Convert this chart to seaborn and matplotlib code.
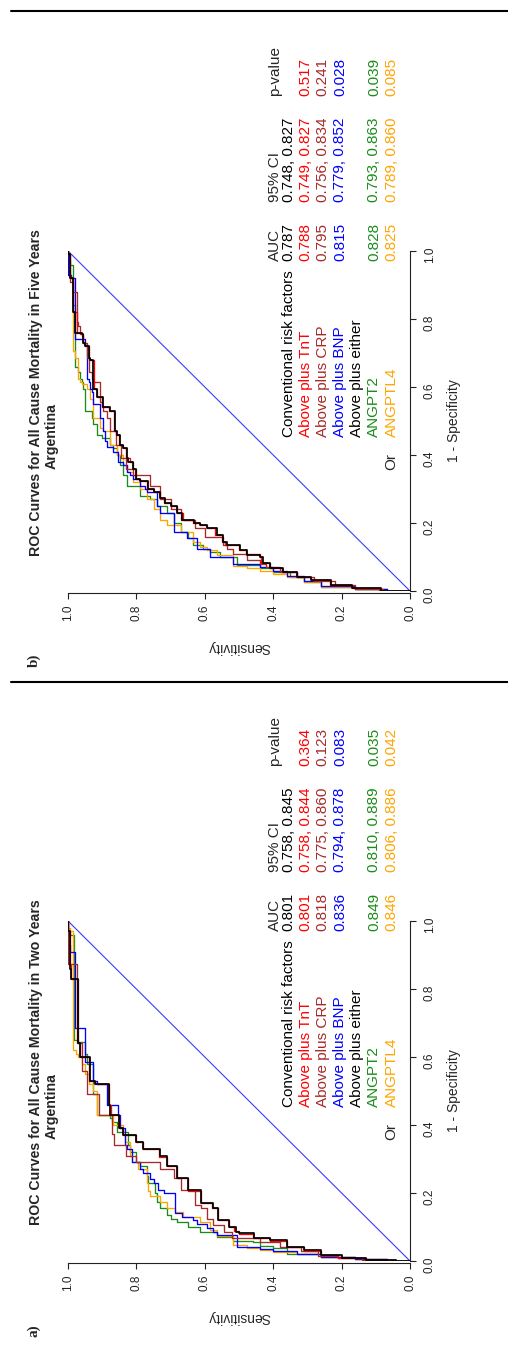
import numpy as np
import pandas as pd
import matplotlib
matplotlib.use("Agg")
import matplotlib.pyplot as plt
import seaborn as sns
from matplotlib.lines import Line2D

# ---------------- data ----------------
MODELS = ["Conventional risk factors", "Above plus TnT", "Above plus CRP",
          "Above plus BNP", "Above plus either", "ANGPT2", "ANGPTL4"]
ROW_COLORS = ["#000000", "#ff0000", "#a52a2a", "#0000ff", "#000000", "#1a8c1a", "#ffa500"]
CURVE_MODELS = ["ANGPT2", "ANGPTL4", "Above plus BNP", "Above plus CRP",
                "Above plus TnT", "Conventional risk factors"]
TICKS = [0.0, 0.2, 0.4, 0.6, 0.8, 1.0]
DIAG = [0.0, 1.0]

# panel a (two years)
A_TITLE = "ROC Curves for All Cause Mortality in Two Years"
A_AUC = ["0.801", "0.801", "0.818", "0.836", "", "0.849", "0.846"]
A_CI = ["0.758, 0.845", "0.758, 0.844", "0.775, 0.860", "0.794, 0.878", "", "0.810, 0.889", "0.806, 0.886"]
A_P = ["", "0.364", "0.123", "0.083", "", "0.035", "0.042"]

A_CONV_FPR = [0, 0.003, 0.008, 0.018, 0.032, 0.042, 0.062, 0.067, 0.081, 0.086, 0.10, 0.12, 0.155, 0.17, 0.21, 0.245, 0.28, 0.31, 0.33, 0.35, 0.37, 0.39, 0.43, 0.46, 0.52, 0.53, 0.60, 0.64, 0.83, 0.86, 0.97, 1.0]
A_CONV_SENS = [0, 0.04, 0.13, 0.20, 0.26, 0.31, 0.36, 0.41, 0.456, 0.50, 0.51, 0.53, 0.56, 0.575, 0.61, 0.65, 0.68, 0.71, 0.73, 0.78, 0.80, 0.84, 0.85, 0.877, 0.88, 0.92, 0.935, 0.965, 0.97, 0.99, 0.995, 1.0]
A_TNT_FPR = [0, 0.003, 0.009, 0.018, 0.030, 0.042, 0.060, 0.067, 0.080, 0.088, 0.10, 0.12, 0.155, 0.17, 0.205, 0.245, 0.28, 0.305, 0.33, 0.35, 0.37, 0.39, 0.43, 0.46, 0.52, 0.53, 0.60, 0.64, 0.83, 0.87, 0.97, 1.0]
A_TNT_SENS = [0, 0.04, 0.13, 0.21, 0.26, 0.31, 0.36, 0.41, 0.46, 0.50, 0.515, 0.53, 0.56, 0.58, 0.61, 0.65, 0.68, 0.71, 0.735, 0.78, 0.80, 0.84, 0.85, 0.875, 0.88, 0.92, 0.94, 0.965, 0.975, 0.99, 0.995, 1.0]
A_CRP_FPR = [0, 0.003, 0.008, 0.015, 0.028, 0.040, 0.055, 0.067, 0.086, 0.105, 0.125, 0.155, 0.165, 0.21, 0.245, 0.27, 0.29, 0.31, 0.34, 0.375, 0.43, 0.49, 0.56, 0.64, 0.83, 0.875, 0.89, 1.0]
A_CRP_SENS = [0, 0.05, 0.14, 0.21, 0.27, 0.32, 0.38, 0.44, 0.52, 0.545, 0.575, 0.595, 0.61, 0.63, 0.67, 0.69, 0.73, 0.80, 0.83, 0.865, 0.87, 0.91, 0.945, 0.96, 0.97, 0.975, 1.0, 1.0]
A_BNP_FPR = [0, 0.005, 0.013, 0.022, 0.03, 0.035, 0.04, 0.076, 0.086, 0.096, 0.11, 0.12, 0.13, 0.14, 0.2, 0.21, 0.23, 0.24, 0.26, 0.27, 0.29, 0.33, 0.34, 0.39, 0.43, 0.46, 0.52, 0.53, 0.586, 0.625, 0.685, 0.91, 0.93, 1.0]
A_BNP_SENS = [0, 0.066, 0.16, 0.26, 0.33, 0.40, 0.44, 0.507, 0.565, 0.575, 0.595, 0.624, 0.634, 0.668, 0.687, 0.72, 0.736, 0.75, 0.76, 0.78, 0.79, 0.814, 0.828, 0.833, 0.848, 0.853, 0.887, 0.916, 0.926, 0.95, 0.95, 0.98, 0.995, 1.0]
A_ANG2_FPR = [0, 0.005, 0.013, 0.022, 0.037, 0.045, 0.055, 0.06, 0.07, 0.086, 0.10, 0.115, 0.125, 0.135, 0.155, 0.175, 0.2, 0.23, 0.25, 0.28, 0.29, 0.32, 0.34, 0.38, 0.41, 0.42, 0.43, 0.49, 0.58, 0.61, 0.645, 0.65, 0.96, 0.97, 1.0]
A_ANG2_SENS = [0, 0.066, 0.16, 0.26, 0.36, 0.40, 0.44, 0.458, 0.517, 0.565, 0.614, 0.65, 0.68, 0.70, 0.71, 0.73, 0.74, 0.746, 0.765, 0.77, 0.79, 0.80, 0.82, 0.824, 0.858, 0.87, 0.877, 0.916, 0.926, 0.945, 0.95, 0.972, 0.982, 0.995, 1.0]
A_ANGL4_FPR = [0, 0.005, 0.012, 0.02, 0.027, 0.033, 0.037, 0.047, 0.075, 0.09, 0.115, 0.13, 0.145, 0.155, 0.175, 0.19, 0.205, 0.23, 0.27, 0.29, 0.31, 0.35, 0.37, 0.40, 0.43, 0.50, 0.52, 0.55, 0.58, 0.6, 0.61, 0.62, 0.97, 0.98, 1.0]
A_ANGL4_SENS = [0, 0.066, 0.16, 0.26, 0.33, 0.40, 0.44, 0.478, 0.517, 0.565, 0.585, 0.614, 0.663, 0.687, 0.711, 0.73, 0.76, 0.765, 0.77, 0.794, 0.814, 0.819, 0.833, 0.838, 0.867, 0.916, 0.926, 0.94, 0.95, 0.96, 0.97, 0.977, 0.984, 0.995, 1.0]

# panel b (five years)
B_TITLE = "ROC Curves for All Cause Mortality in Five Years"
B_AUC = ["0.787", "0.788", "0.795", "0.815", "", "0.828", "0.825"]
B_CI = ["0.748, 0.827", "0.749, 0.827", "0.756, 0.834", "0.779, 0.852", "", "0.793, 0.863", "0.789, 0.860"]
B_P = ["", "0.517", "0.241", "0.028", "", "0.039", "0.085"]

B_CONV_FPR = [0, 0.008, 0.018, 0.032, 0.042, 0.057, 0.067, 0.081, 0.10, 0.106, 0.12, 0.135, 0.145, 0.165, 0.185, 0.195, 0.2, 0.21, 0.23, 0.25, 0.26, 0.275, 0.29, 0.30, 0.325, 0.33, 0.36, 0.38, 0.39, 0.42, 0.43, 0.46, 0.47, 0.53, 0.54, 0.57, 0.595, 0.68, 0.685, 0.72, 0.73, 0.755, 0.76, 0.82, 0.92, 0.99, 1.0]
B_CONV_SENS = [0, 0.086, 0.17, 0.23, 0.29, 0.33, 0.37, 0.41, 0.43, 0.44, 0.478, 0.497, 0.536, 0.546, 0.565, 0.595, 0.614, 0.633, 0.667, 0.68, 0.70, 0.716, 0.73, 0.75, 0.765, 0.79, 0.80, 0.809, 0.824, 0.828, 0.838, 0.848, 0.858, 0.863, 0.877, 0.897, 0.916, 0.926, 0.935, 0.94, 0.95, 0.955, 0.96, 0.98, 0.985, 0.995, 1.0]
B_TNT_FPR = [0, 0.008, 0.017, 0.032, 0.042, 0.055, 0.067, 0.081, 0.10, 0.108, 0.12, 0.135, 0.145, 0.165, 0.185, 0.195, 0.2, 0.21, 0.23, 0.25, 0.26, 0.275, 0.29, 0.30, 0.325, 0.33, 0.36, 0.38, 0.39, 0.42, 0.43, 0.46, 0.47, 0.53, 0.54, 0.57, 0.595, 0.68, 0.685, 0.72, 0.73, 0.755, 0.76, 0.82, 0.92, 0.99, 1.0]
B_TNT_SENS = [0, 0.09, 0.17, 0.235, 0.29, 0.33, 0.375, 0.41, 0.435, 0.44, 0.48, 0.50, 0.54, 0.55, 0.57, 0.595, 0.615, 0.635, 0.665, 0.68, 0.70, 0.72, 0.73, 0.75, 0.77, 0.79, 0.80, 0.81, 0.82, 0.83, 0.84, 0.85, 0.86, 0.865, 0.88, 0.90, 0.915, 0.925, 0.935, 0.94, 0.95, 0.955, 0.965, 0.975, 0.985, 0.995, 1.0]
B_CRP_FPR = [0, 0.007, 0.017, 0.03, 0.04, 0.055, 0.07, 0.08, 0.09, 0.11, 0.125, 0.135, 0.16, 0.185, 0.21, 0.24, 0.27, 0.31, 0.34, 0.36, 0.39, 0.43, 0.47, 0.51, 0.53, 0.545, 0.555, 0.615, 0.625, 0.645, 0.685, 0.73, 0.75, 0.76, 0.78, 0.79, 0.88, 0.91, 0.99, 1.0]
B_CRP_SENS = [0, 0.08, 0.16, 0.22, 0.28, 0.33, 0.38, 0.42, 0.44, 0.478, 0.517, 0.536, 0.546, 0.60, 0.63, 0.67, 0.70, 0.73, 0.76, 0.81, 0.83, 0.845, 0.86, 0.877, 0.887, 0.897, 0.90, 0.906, 0.926, 0.93, 0.94, 0.945, 0.955, 0.96, 0.965, 0.97, 0.975, 0.985, 0.995, 1.0]
B_BNP_FPR = [0, 0.005, 0.015, 0.03, 0.045, 0.06, 0.07, 0.08, 0.1, 0.125, 0.155, 0.175, 0.2, 0.23, 0.25, 0.29, 0.30, 0.31, 0.33, 0.34, 0.35, 0.37, 0.38, 0.41, 0.425, 0.44, 0.47, 0.51, 0.55, 0.585, 0.595, 0.615, 0.625, 0.725, 0.74, 0.92, 0.93, 1.0]
B_BNP_SENS = [0, 0.066, 0.16, 0.26, 0.31, 0.36, 0.40, 0.44, 0.517, 0.585, 0.624, 0.653, 0.69, 0.69, 0.73, 0.74, 0.77, 0.775, 0.79, 0.809, 0.819, 0.828, 0.838, 0.853, 0.867, 0.887, 0.892, 0.897, 0.906, 0.926, 0.93, 0.935, 0.94, 0.945, 0.95, 0.98, 0.99, 1.0]
B_ANG2_FPR = [0, 0.005, 0.013, 0.027, 0.042, 0.055, 0.067, 0.076, 0.1, 0.115, 0.125, 0.135, 0.155, 0.175, 0.2, 0.23, 0.25, 0.27, 0.28, 0.31, 0.34, 0.37, 0.40, 0.42, 0.43, 0.45, 0.46, 0.49, 0.51, 0.53, 0.595, 0.615, 0.625, 0.645, 0.66, 0.665, 0.84, 0.85, 0.96, 0.97, 1.0]
B_ANG2_SENS = [0, 0.066, 0.16, 0.26, 0.31, 0.35, 0.40, 0.44, 0.507, 0.556, 0.585, 0.604, 0.634, 0.65, 0.67, 0.69, 0.71, 0.74, 0.76, 0.79, 0.828, 0.838, 0.848, 0.858, 0.867, 0.877, 0.90, 0.916, 0.926, 0.93, 0.95, 0.955, 0.96, 0.965, 0.97, 0.98, 0.98, 0.985, 0.985, 0.995, 1.0]
B_ANGL4_FPR = [0, 0.005, 0.013, 0.027, 0.04, 0.05, 0.06, 0.067, 0.075, 0.105, 0.12, 0.13, 0.145, 0.175, 0.195, 0.21, 0.24, 0.27, 0.30, 0.32, 0.35, 0.37, 0.40, 0.43, 0.47, 0.48, 0.51, 0.565, 0.595, 0.61, 0.615, 0.625, 0.685, 0.705, 0.92, 0.94, 1.0]
B_ANGL4_SENS = [0, 0.066, 0.16, 0.26, 0.31, 0.36, 0.40, 0.44, 0.478, 0.517, 0.565, 0.595, 0.614, 0.634, 0.67, 0.71, 0.73, 0.75, 0.77, 0.79, 0.809, 0.828, 0.838, 0.858, 0.877, 0.897, 0.906, 0.926, 0.935, 0.945, 0.96, 0.965, 0.97, 0.98, 0.985, 0.995, 1.0]

A_CURVES = {
    "Conventional risk factors": (A_CONV_FPR, A_CONV_SENS),
    "Above plus TnT": (A_TNT_FPR, A_TNT_SENS),
    "Above plus CRP": (A_CRP_FPR, A_CRP_SENS),
    "Above plus BNP": (A_BNP_FPR, A_BNP_SENS),
    "ANGPT2": (A_ANG2_FPR, A_ANG2_SENS),
    "ANGPTL4": (A_ANGL4_FPR, A_ANGL4_SENS),
}
B_CURVES = {
    "Conventional risk factors": (B_CONV_FPR, B_CONV_SENS),
    "Above plus TnT": (B_TNT_FPR, B_TNT_SENS),
    "Above plus CRP": (B_CRP_FPR, B_CRP_SENS),
    "Above plus BNP": (B_BNP_FPR, B_BNP_SENS),
    "ANGPT2": (B_ANG2_FPR, B_ANG2_SENS),
    "ANGPTL4": (B_ANGL4_FPR, B_ANGL4_SENS),
}

# ---------------- style ----------------
sns.set_style("ticks")
plt.rcParams["font.family"] = ["Liberation Sans", "DejaVu Sans"]

PALETTE = dict(zip(MODELS, ROW_COLORS))
SIZES = {m: (1.25 if m == "Conventional risk factors" else 0.95) for m in CURVE_MODELS}

W, H = 508, 1345
fig = plt.figure(figsize=(W / 100, H / 100), dpi=100)


def rect(x0, x1, ytop, ybot):
    return [x0 / W, 1 - ybot / H, (x1 - x0) / W, (ybot - ytop) / H]


LEG_ROWS = [0.355, 0.305, 0.255, 0.205, 0.154, 0.104, 0.054]
HDR_ROW = 0.395
COL_NAME, COL_AUC, COL_CI, COL_P = 0.453, 0.972, 1.145, 1.455
FS_LEG = 11.0


def draw_panel(ax, curves, auc, ci, pv, title, tag):
    frames = []
    for m in CURVE_MODELS:
        f, s = curves[m]
        frames.append(pd.DataFrame({"sens": s, "fpr": f, "model": m}))
    df = pd.concat(frames, ignore_index=True)

    ax.plot(DIAG, DIAG, color="#3b3bff", lw=0.8, zorder=1)
    sns.lineplot(data=df, x="sens", y="fpr", hue="model", hue_order=CURVE_MODELS,
                 palette=PALETTE, size="model", sizes=SIZES, size_order=CURVE_MODELS,
                 estimator=None, sort=False, drawstyle="steps-post",
                 legend=False, ax=ax)

    ax.set_xlim(1, 0)
    ax.set_ylim(0, 1)
    ax.set_xticks(TICKS)
    ax.set_yticks(TICKS)
    ax.set_xticklabels([f"{t:.1f}" for t in TICKS])
    ax.set_yticklabels([f"{t:.1f}" for t in TICKS])
    ax.yaxis.tick_right()
    ax.set_xlabel("")
    ax.set_ylabel("")
    for sp in ["top", "left"]:
        ax.spines[sp].set_visible(False)
    for sp in ["bottom", "right"]:
        ax.spines[sp].set_linewidth(0.8)
        ax.spines[sp].set_color("#222222")
    ax.spines["bottom"].set_position(("outward", 1.5))
    ax.tick_params(axis="both", direction="out", length=4, width=0.8,
                   labelsize=8.5, color="#222222", labelcolor="#222222")
    ax.tick_params(axis="x", labelrotation=90, pad=4)
    ax.tick_params(axis="y", labelrotation=90, pad=6)

    kw = dict(rotation=90, clip_on=False, fontsize=FS_LEG)
    ax.text(-0.129, 0.5, "1 - Specificity", rotation=90, ha="center", va="center",
            fontsize=10, clip_on=False)
    ax.text(0.5, -0.165, "Sensitivity", rotation=180, ha="center", va="center",
            fontsize=10, clip_on=False)
    ax.text(1.094, 0.585, title, rotation=90, ha="center", va="center",
            fontsize=10.2, fontweight="bold", clip_on=False)
    ax.text(1.047, 0.456, "Argentina", rotation=90, ha="center", va="center",
            fontsize=10.2, fontweight="bold", clip_on=False)
    ax.text(1.10, -0.205, tag, rotation=90, ha="center", va="center",
            fontsize=11, fontweight="bold", family=["Liberation Serif", "DejaVu Serif"],
            clip_on=False)

    ax.text(HDR_ROW, COL_AUC, "AUC", ha="center", va="bottom", **kw)
    ax.text(HDR_ROW, COL_CI, "95% CI", ha="center", va="bottom", **kw)
    ax.text(HDR_ROW, COL_P, "p-value", ha="center", va="bottom", **kw)
    for r, name, col, a, c, p in zip(LEG_ROWS, MODELS, ROW_COLORS, auc, ci, pv):
        ax.text(r, COL_NAME, name, color=col, ha="center", va="bottom", **kw)
        if a:
            ax.text(r, COL_AUC, a, color=col, ha="center", va="bottom", **kw)
        if c:
            ax.text(r, COL_CI, c, color=col, ha="center", va="bottom", **kw)
        if p:
            ax.text(r, COL_P, p, color=col, ha="center", va="bottom", **kw)
    ax.text(LEG_ROWS[-1], 0.405, "Or", ha="center", va="top", **kw)


ax_a = fig.add_axes(rect(68, 410, 921, 1261))
ax_b = fig.add_axes(rect(68, 410, 251, 591))
draw_panel(ax_a, A_CURVES, A_AUC, A_CI, A_P, A_TITLE, "a)")
draw_panel(ax_b, B_CURVES, B_AUC, B_CI, B_P, B_TITLE, "b)")

for ypx in (11, 682):
    fig.add_artist(Line2D([11 / W, 1.0], [1 - ypx / H, 1 - ypx / H],
                          transform=fig.transFigure, color="black", lw=1.5))

fig.savefig("out.png", dpi=100)
